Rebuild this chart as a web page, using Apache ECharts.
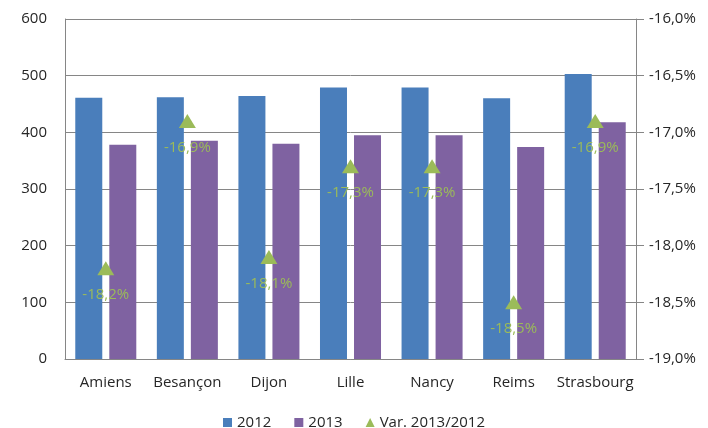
<!DOCTYPE html>
<html>
<head>
<meta charset="utf-8">
<script src="https://cdn.jsdelivr.net/npm/echarts@6/dist/echarts.min.js"></script>
<style>
  html, body { margin: 0; padding: 0; background: #fff; }
  #chart { width: 708px; height: 428px; }
</style>
</head>
<body>
<div id="chart"></div>
<script>
// Cities and yearly values
const cities = ['Amiens', 'Besançon', 'Dijon', 'Lille', 'Nancy', 'Reims', 'Strasbourg'];
const values2012 = [461, 462, 464, 479, 479, 460, 503];
const values2013 = [378, 385, 380, 395, 395, 374, 418];
// Change 2013/2012, in percent
const variation = [-18.2, -16.9, -18.1, -17.3, -17.3, -18.5, -16.9];

const FONT = 'Open Sans';
const TEXT = '#262626';
const fmtPct = v => v.toFixed(1).replace('.', ',') + '%';

const chart = echarts.init(document.getElementById('chart'), null, { renderer: 'canvas' });

chart.setOption({
  animation: false,
  textStyle: { fontFamily: FONT },
  grid: { left: 65, right: 72, top: 19, bottom: 69, containLabel: false },
  legend: {
    bottom: -7,
    left: 'center',
    itemGap: 23,
    itemWidth: 9,
    itemHeight: 9,
    textStyle: { fontFamily: FONT, fontSize: 15, color: TEXT },
    data: [
      { name: '2012', icon: 'rect' },
      { name: '2013', icon: 'rect' },
      { name: 'Var. 2013/2012', icon: 'triangle' }
    ]
  },
  xAxis: {
    type: 'category',
    data: cities,
    axisLine: { lineStyle: { color: '#868686' } },
    axisTick: { show: false },
    axisLabel: { color: TEXT, fontFamily: FONT, fontSize: 15, margin: 16, interval: 0 }
  },
  yAxis: [
    {
      type: 'value',
      min: 0,
      max: 600,
      interval: 100,
      axisLine: { show: true, lineStyle: { color: '#868686' } },
      axisTick: { show: false },
      splitLine: { lineStyle: { color: '#868686' } },
      axisLabel: { color: TEXT, fontFamily: FONT, fontSize: 15, margin: 18 }
    },
    {
      type: 'value',
      min: -19,
      max: -16,
      interval: 0.5,
      position: 'right',
      axisLine: { show: true, lineStyle: { color: '#868686' } },
      axisTick: { show: true, length: 8, lineStyle: { color: '#868686' } },
      splitLine: { show: false },
      axisLabel: { color: TEXT, fontFamily: FONT, fontSize: 15, margin: 13, formatter: fmtPct }
    }
  ],
  series: [
    {
      name: '2012',
      type: 'bar',
      data: values2012,
      barWidth: 27,
      barGap: '26%',
      itemStyle: { color: '#4a7ebb' }
    },
    {
      name: '2013',
      type: 'bar',
      data: values2013,
      barWidth: 27,
      itemStyle: { color: '#7f62a1' }
    },
    {
      name: 'Var. 2013/2012',
      type: 'line',
      yAxisIndex: 1,
      data: variation,
      lineStyle: { width: 0, opacity: 0 },
      symbol: 'triangle',
      symbolSize: [17, 14],
      itemStyle: { color: '#9bbb59' },
      label: {
        show: true,
        position: 'bottom',
        distance: 12,
        color: '#9bbb59',
        fontFamily: FONT,
        fontSize: 15,
        formatter: p => fmtPct(p.value)
      },
      z: 5
    }
  ]
});
</script>
</body>
</html>
